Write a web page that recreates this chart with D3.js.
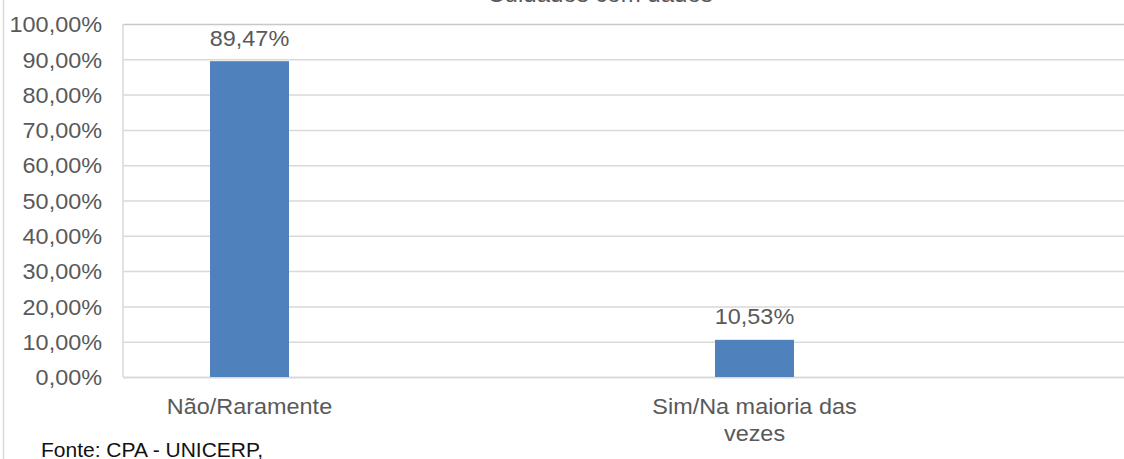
<!DOCTYPE html>
<html>
<head>
<meta charset="utf-8">
<script src="https://cdn.jsdelivr.net/npm/d3@7"></script>
<style>
  body { margin: 0; background: #fff; }
  svg { display: block; font-family: "Liberation Sans", Arial, sans-serif; }
</style>
</head>
<body>
<svg width="1124" height="459"></svg>
<script>
// chart data
var categories = ["Não/Raramente", "Sim/Na maioria das vezes"];
var categoryLines = [["Não/Raramente"], ["Sim/Na maioria das", "vezes"]];
var values = [0.8947, 0.1053];
var tickValues = [0, 0.1, 0.2, 0.3, 0.4, 0.5, 0.6, 0.7, 0.8, 0.9, 1.0];
var title = "Cuidados com dados";
var source = "Fonte: CPA - UNICERP,";

var svg = d3.select("svg"),
    margin = {top: 24, right: -10, bottom: 82, left: 123},
    width = +svg.attr("width") - margin.left - margin.right,
    height = +svg.attr("height") - margin.top - margin.bottom;

var stretch = 1.09,   // chart text looks slightly wide in the picture
    textColor = "#595959",
    gridColor = "#d9d9d9";

var locale = d3.formatLocale({decimal: ",", thousands: ".", grouping: [3], currency: ["R$", ""]});
var pct = locale.format(".2%");

var y = d3.scaleLinear().domain([0, 1]).range([height, 0]);
var x = d3.scalePoint().domain(categories).range([249.5 - margin.left, 754.5 - margin.left]);
var barWidth = 79;

// outer frame line on the left
svg.append("line")
    .attr("x1", 3.5).attr("x2", 3.5)
    .attr("y1", 0).attr("y2", 459)
    .attr("stroke", gridColor).attr("stroke-width", 1.5);

// title, mostly cut off at the top
svg.append("text")
    .attr("x", 600).attr("y", 1.5)
    .attr("text-anchor", "middle")
    .attr("font-size", 24)
    .attr("fill", textColor)
    .text(title);

var g = svg.append("g")
    .attr("transform", "translate(" + margin.left + "," + margin.top + ")");

// gridlines
g.append("g")
    .attr("class", "grid")
    .call(d3.axisLeft(y).tickValues(tickValues).tickSize(-width).tickFormat(""))
    .call(function(s) {
      s.select(".domain").remove();
      s.selectAll("line")
        .attr("stroke", function(d) { return d === 1 ? "#c8c8c8" : gridColor; })
        .attr("stroke-width", function(d) { return d === 0 ? 2 : 1.5; });
    });

// left plot edge
g.append("line")
    .attr("x1", 0).attr("x2", 0)
    .attr("y1", y(1)).attr("y2", y(0))
    .attr("stroke", gridColor).attr("stroke-width", 1.5);

// y axis labels
g.append("g")
    .attr("class", "axis axis--y")
    .call(d3.axisLeft(y).tickValues(tickValues).tickSize(0).tickFormat(pct))
    .call(function(s) {
      s.select(".domain").remove();
      s.selectAll("text")
        .attr("x", -21 / stretch)
        .attr("dy", "0.36em")
        .attr("transform", "scale(" + stretch + ",1)")
        .attr("font-size", 21.5)
        .attr("font-family", "Liberation Sans, Arial, sans-serif")
        .attr("fill", textColor);
    });

// bars
g.selectAll(".bar")
    .data(values)
  .enter().append("rect")
    .attr("class", "bar")
    .attr("x", function(d, i) { return x(categories[i]) - barWidth / 2; })
    .attr("y", function(d) { return y(d); })
    .attr("width", barWidth)
    .attr("height", function(d) { return y(0) - y(d); })
    .attr("fill", "#4f81bd");

// value labels
g.selectAll(".value")
    .data(values)
  .enter().append("text")
    .attr("class", "value")
    .attr("transform", function(d, i) {
      return "translate(" + x(categories[i]) + "," + (y(d) - 15.5) + ") scale(" + stretch + ",1)";
    })
    .attr("text-anchor", "middle")
    .attr("font-size", 21.5)
    .attr("fill", textColor)
    .text(function(d) { return pct(d); });

// category labels
var cat = g.selectAll(".cat")
    .data(categories)
  .enter().append("text")
    .attr("class", "cat")
    .attr("transform", function(d) {
      return "translate(" + x(d) + "," + (y(0) + 36.5) + ") scale(" + stretch + ",1)";
    })
    .attr("text-anchor", "middle")
    .attr("font-size", 21.5)
    .attr("fill", textColor);

cat.each(function(d, i) {
  d3.select(this).selectAll("tspan")
      .data(categoryLines[i])
    .enter().append("tspan")
      .attr("x", 0)
      .attr("dy", function(t, j) { return j === 0 ? 0 : 28; })
      .text(function(t) { return t; });
});

// source note
svg.append("text")
    .attr("x", 41)
    .attr("y", 456.5)
    .attr("font-size", 21)
    .attr("fill", "#111")
    .text(source);
</script>
</body>
</html>
